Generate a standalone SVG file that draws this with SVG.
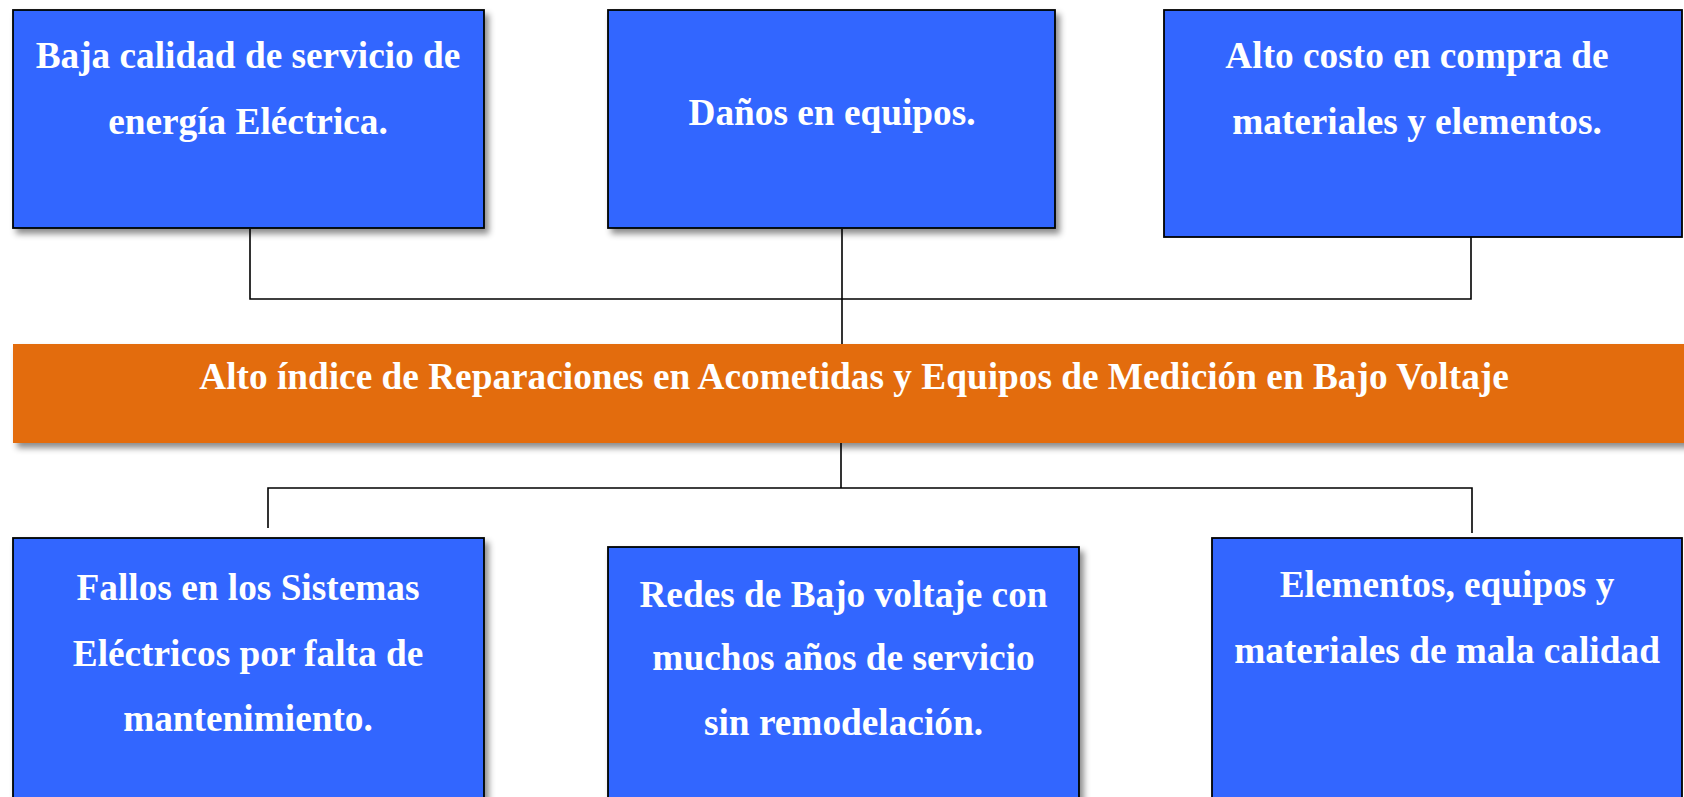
<svg xmlns="http://www.w3.org/2000/svg" width="1684" height="797" viewBox="0 0 1684 797">
  <defs>
    <filter id="shadow" x="-5%" y="-10%" width="115%" height="130%">
      <feDropShadow dx="4" dy="5" stdDeviation="3" flood-color="#000" flood-opacity="0.45"/>
    </filter>
  </defs>
  <style>
    .box { fill: #3366FF; stroke: #000; stroke-width: 1.8; }
    .band { fill: #E36C0A; }
    .t { font-family: "Liberation Serif", "Times New Roman", serif; font-weight: bold; font-size: 37.3px; fill: #FFFFFF; text-anchor: middle; }
    .conn { fill: none; stroke: #000; stroke-width: 1.6; }
  </style>
  <rect x="0" y="0" width="1684" height="797" fill="#FFFFFF"/>

  <g id="connectors">
    <polyline class="conn" points="250,229 250,299 1471,299 1471,237"/>
    <line class="conn" x1="842" y1="229" x2="842" y2="344"/>
    <line class="conn" x1="841" y1="443" x2="841" y2="488"/>
    <polyline class="conn" points="268,528 268,488 1472,488 1472,533"/>
  </g>

  <g id="efecto1">
    <rect class="box" x="13" y="10" width="471" height="218" filter="url(#shadow)"/>
    <text class="t" x="248" y="68">Baja calidad de servicio de</text>
    <text class="t" x="248" y="134">energía Eléctrica.</text>
  </g>

  <g id="efecto2">
    <rect class="box" x="608" y="10" width="447" height="218" filter="url(#shadow)"/>
    <text class="t" x="832" y="125">Daños en equipos.</text>
  </g>

  <g id="efecto3">
    <rect class="box" x="1164" y="10" width="518" height="227"/>
    <text class="t" x="1417" y="68">Alto costo en compra de</text>
    <text class="t" x="1417" y="134">materiales y elementos.</text>
  </g>

  <g id="problema">
    <rect class="band" x="13" y="344" width="1690" height="99" filter="url(#shadow)"/>
    <text class="t" x="854" y="389">Alto índice de Reparaciones en Acometidas y Equipos de Medición en Bajo Voltaje</text>
  </g>

  <g id="causa1">
    <rect class="box" x="13" y="538" width="471" height="280" filter="url(#shadow)"/>
    <text class="t" x="248" y="600">Fallos en los Sistemas</text>
    <text class="t" x="248" y="666">Eléctricos por falta de</text>
    <text class="t" x="248" y="731">mantenimiento.</text>
  </g>

  <g id="causa2">
    <rect class="box" x="608" y="547" width="471" height="280" filter="url(#shadow)"/>
    <text class="t" x="843.5" y="607">Redes de Bajo voltaje con</text>
    <text class="t" x="843.5" y="670">muchos años de servicio</text>
    <text class="t" x="843.5" y="735">sin remodelación.</text>
  </g>

  <g id="causa3">
    <rect class="box" x="1212" y="538" width="470" height="280"/>
    <text class="t" x="1447" y="597">Elementos, equipos y</text>
    <text class="t" x="1447" y="663">materiales de mala calidad</text>
  </g>
</svg>
